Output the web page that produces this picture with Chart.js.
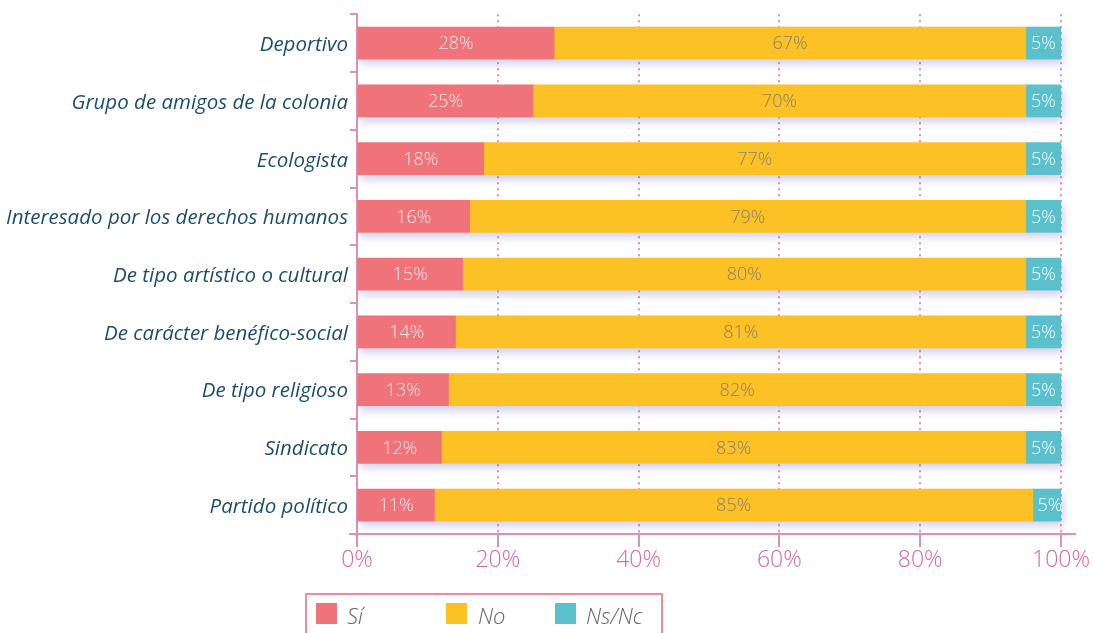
<!DOCTYPE html>
<html>
<head>
<meta charset="utf-8">
<script src="https://cdn.jsdelivr.net/npm/chart.js@4"></script>
<style>
  html, body { margin: 0; padding: 0; background: #fff; }
  #wrap { position: relative; width: 1093px; height: 633px; overflow: hidden; }
  #legend {
    position: absolute; left: 305px; top: 593px; width: 358px; height: 50px;
    border: 2px solid #ee8d98; box-sizing: border-box;
    font-family: "Open Sans", sans-serif; font-style: italic; font-weight: 300;
    font-size: 22px; color: #666;
  }
  #legend .item { position: absolute; top: 6px; height: 26px; line-height: 26px; white-space: nowrap; }
  #legend .sw { position: absolute; left: 0; top: 2px; width: 21px; height: 21px; }
  #legend .tx { position: absolute; top: 1px; }
</style>
</head>
<body>
<div id="wrap">
  <canvas id="chart" width="1093" height="633"></canvas>
  <div id="legend"></div>
</div>
<script>
// Participación en asociaciones, por tipo (%)
const categories = [
  "Deportivo",
  "Grupo de amigos de la colonia",
  "Ecologista",
  "Interesado por los derechos humanos",
  "De tipo artístico o cultural",
  "De carácter benéfico-social",
  "De tipo religioso",
  "Sindicato",
  "Partido político"
];
const si   = [28, 25, 18, 16, 15, 14, 13, 12, 11];
const no   = [67, 70, 77, 79, 80, 81, 82, 83, 85];
const nsnc = [5, 5, 5, 5, 5, 5, 5, 5, 5];
const seriesNames = ["Sí", "No", "Ns/Nc"];
const xTicks = [0, 20, 40, 60, 80, 100];

const PINK_AXIS = "#dc8fb8";
const FONT = "'Open Sans', sans-serif";

// soft shadow under each whole stacked bar
const barShadow = {
  id: "barShadow",
  beforeDatasetsDraw(chart) {
    const ctx = chart.ctx;
    const first = chart.getDatasetMeta(0).data;
    const last = chart.getDatasetMeta(chart.data.datasets.length - 1).data;
    ctx.save();
    ctx.beginPath();
    ctx.rect(chart.chartArea.left, chart.chartArea.top - 20, chart.chartArea.width + 20, chart.chartArea.height + 20);
    ctx.clip();
    ctx.shadowColor = "rgba(80,70,170,0.28)";
    ctx.shadowBlur = 9;
    ctx.shadowOffsetX = 2;
    ctx.shadowOffsetY = 5;
    ctx.fillStyle = "#fff";
    first.forEach((el, i) => {
      const x0 = el.base;
      const x1 = Math.min(last[i].x, chart.chartArea.right);
      ctx.fillRect(x0, el.y - el.height / 2, x1 - x0, el.height);
    });
    ctx.restore();
  }
};

// value labels inside the segments
const segLabels = {
  id: "segLabels",
  afterDatasetsDraw(chart) {
    const ctx = chart.ctx;
    ctx.save();
    ctx.font = "300 18px " + FONT;
    ctx.textAlign = "center";
    ctx.textBaseline = "middle";
    chart.data.datasets.forEach((ds, di) => {
      chart.getDatasetMeta(di).data.forEach((el, i) => {
        const c = el.getCenterPoint();
        ctx.fillStyle = ds.labelColor;
        ctx.fillText(ds.data[i] + "%", Math.min(c.x, chart.chartArea.right - 11), c.y + 1);
      });
    });
    ctx.restore();
  }
};

// x axis line running a little past both ends
const axisLine = {
  id: "axisLine",
  afterDraw(chart) {
    const ctx = chart.ctx;
    const a = chart.chartArea;
    ctx.save();
    ctx.strokeStyle = PINK_AXIS;
    ctx.lineWidth = 2;
    ctx.beginPath();
    ctx.moveTo(a.left - 8, a.bottom);
    ctx.lineTo(a.right + 15, a.bottom);
    ctx.stroke();
    ctx.restore();
  }
};

const chart = new Chart(document.getElementById("chart"), {
  type: "bar",
  data: {
    labels: categories,
    datasets: [
      { label: seriesNames[0], data: si,   backgroundColor: "#f0737a", labelColor: "#fdeaea" },
      { label: seriesNames[1], data: no,   backgroundColor: "#fcc124", labelColor: "#8a8170" },
      { label: seriesNames[2], data: nsnc, backgroundColor: "#5cc0cc", labelColor: "#f2fbfc" }
    ]
  },
  options: {
    indexAxis: "y",
    responsive: false,
    animation: false,
    layout: { padding: { top: 14, right: 32, bottom: 49, left: 0 } },
    datasets: { bar: { barThickness: 32, borderWidth: 0 } },
    plugins: { legend: { display: false }, tooltip: { enabled: false } },
    scales: {
      x: {
        stacked: true,
        min: 0,
        max: 100,
        afterBuildTicks: s => { s.ticks = xTicks.map(v => ({ value: v })); },
        afterFit: s => { s.height = 50; },
        border: { display: false, dash: [2, 4] },
        grid: {
          color: ctx => ctx.tick && ctx.tick.value === 0 ? "rgba(0,0,0,0)" : PINK_AXIS,
          lineWidth: 2,
          tickLength: 13,
          tickColor: PINK_AXIS,
          tickBorderDash: []
        },
        ticks: {
          padding: 0,
          color: "#d8679f",
          font: { family: FONT, size: 23, weight: "300" },
          callback: v => v + "%"
        }
      },
      y: {
        stacked: true,
        offset: true,
        afterFit: s => { s.width = 357; },
        border: { display: true, color: PINK_AXIS, width: 2 },
        grid: {
          offset: true,
          drawOnChartArea: false,
          tickLength: 7,
          tickColor: PINK_AXIS,
          lineWidth: 2
        },
        ticks: {
          padding: 2,
          labelOffset: 2,
          color: "#1c4e6b",
          font: { family: FONT, size: 20.5, style: "italic" }
        }
      }
    }
  },
  plugins: [barShadow, segLabels, axisLine]
});

// legend box built from the chart's datasets
const legendPos = [[9, 40], [139, 171], [248, 279]];
const legend = document.getElementById("legend");
chart.data.datasets.forEach((ds, i) => {
  const item = document.createElement("div");
  item.className = "item";
  item.style.left = legendPos[i][0] + "px";
  item.innerHTML = '<span class="sw" style="background:' + ds.backgroundColor + '"></span>' +
    '<span class="tx" style="left:' + (legendPos[i][1] - legendPos[i][0]) + 'px">' + ds.label + '</span>';
  legend.appendChild(item);
});
</script>
</body>
</html>
